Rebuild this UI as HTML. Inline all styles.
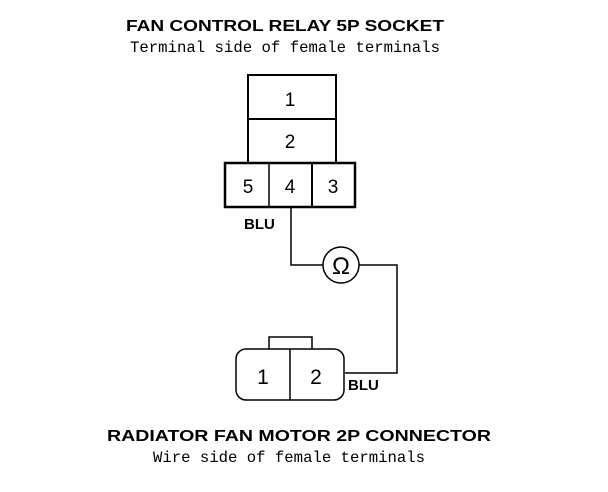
<!DOCTYPE html>
<html><head><style>
body{margin:0;background:#fff;}
svg{display:block}
</style></head><body>
<svg width="608" height="492" viewBox="0 0 608 492" xmlns="http://www.w3.org/2000/svg">
<rect width="608" height="492" fill="#fff"/>
<g font-family="Liberation Sans, sans-serif" font-weight="bold" font-size="16" fill="#000">
<text x="285" y="31" text-anchor="middle" textLength="318" lengthAdjust="spacingAndGlyphs">FAN CONTROL RELAY 5P SOCKET</text>
<text x="299" y="441" text-anchor="middle" textLength="384" lengthAdjust="spacingAndGlyphs">RADIATOR FAN MOTOR 2P CONNECTOR</text>
<text x="244" y="229" font-size="15">BLU</text>
<text x="348" y="390" font-size="15">BLU</text>
</g>
<g font-family="Liberation Mono, monospace" font-size="16" fill="#000">
<text x="285" y="52" text-anchor="middle" textLength="310" lengthAdjust="spacingAndGlyphs">Terminal side of female terminals</text>
<text x="289" y="462" text-anchor="middle" textLength="272" lengthAdjust="spacingAndGlyphs">Wire side of female terminals</text>
</g>
<g stroke="#000" fill="none">
<path d="M248 163 V75 H336 V163" stroke-width="2"/>
<line x1="248" y1="119" x2="336" y2="119" stroke-width="2"/>
<rect x="225" y="163" width="130" height="44" stroke-width="2.5"/>
<line x1="269" y1="163" x2="269" y2="207" stroke-width="1.5"/>
<line x1="312" y1="163" x2="312" y2="207" stroke-width="2"/>
<path d="M291 207 V265 H323 M359 265 H397 V373 H345" stroke-width="1.5"/>
<circle cx="341" cy="265" r="18" stroke-width="1.5"/>
<rect x="236" y="349" width="108" height="51" rx="10" stroke-width="1.5"/>
<path d="M269 349 V337 H312 V349" stroke-width="1.5"/>
<line x1="290" y1="349" x2="290" y2="400" stroke-width="1.5"/>
</g>
<g font-family="Liberation Sans, sans-serif" font-size="19" fill="#000" text-anchor="middle">
<text x="290" y="106">1</text>
<text x="290" y="148">2</text>
<text x="248" y="193">5</text>
<text x="290" y="193">4</text>
<text x="333" y="193">3</text>
<text x="263" y="384" font-size="21">1</text>
<text x="316" y="384" font-size="21">2</text>
<text x="341" y="274" font-size="24">Ω</text>
</g>
</svg>
</body></html>
